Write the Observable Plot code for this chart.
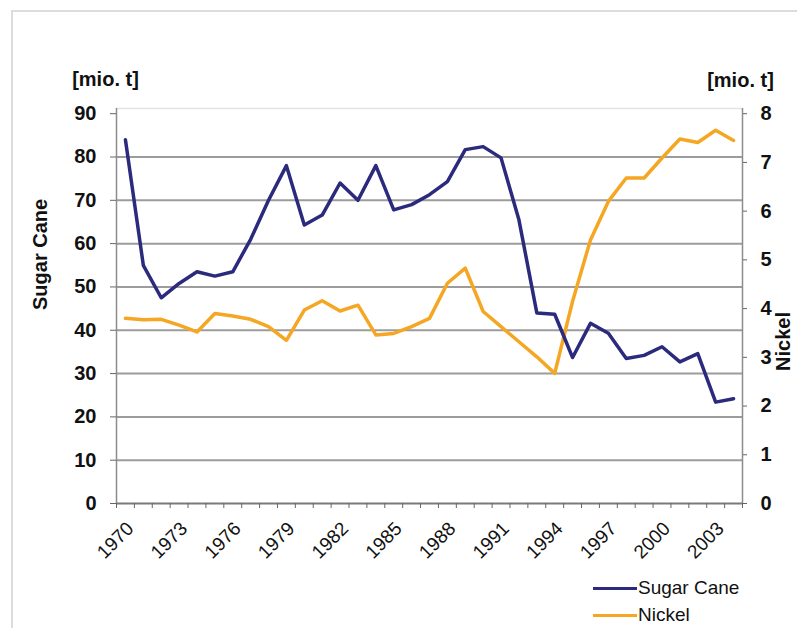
<!DOCTYPE html>
<html><head><meta charset="utf-8">
<script src="https://cdn.jsdelivr.net/npm/d3@7"></script>
<script src="https://cdn.jsdelivr.net/npm/@observablehq/plot@0.6"></script>
<style>
body{margin:0;background:#fff;}
#wrap{position:relative;width:797px;height:628px;overflow:hidden;font-family:"Liberation Sans",Arial,sans-serif;background:#fff;}
#border{position:absolute;left:11px;top:10px;width:820px;height:700px;border-left:2px solid #dcdcdc;border-top:2px solid #dcdcdc;}
#chart{position:absolute;left:0;top:0;}
.leg{position:absolute;left:593px;font-size:19px;color:#111;display:flex;align-items:center;height:24px;}
.leg .sw{display:inline-block;width:44px;height:3px;margin-right:1px;}
</style></head><body>
<div id="wrap"><div id="border"></div><div id="chart"></div>
<div class="leg" style="top:576px"><span class="sw" style="background:#2B2A7C"></span><span>Sugar Cane</span></div>
<div class="leg" style="top:603px"><span class="sw" style="background:#F5A623"></span><span>Nickel</span></div>
</div>
<script>
const years = [1970,1971,1972,1973,1974,1975,1976,1977,1978,1979,1980,1981,1982,1983,1984,1985,1986,1987,1988,1989,1990,1991,1992,1993,1994,1995,1996,1997,1998,1999,2000,2001,2002,2003,2004];
const sugarCane = [84,55,47.5,50.8,53.5,52.5,53.5,61,70,78,64.3,66.6,74,70,78,67.8,69,71.3,74.3,81.7,82.4,79.8,65.5,44,43.7,33.7,41.6,39.3,33.5,34.2,36.2,32.7,34.6,23.4,24.2];
const nickel = [3.80,3.77,3.78,3.66,3.52,3.90,3.85,3.78,3.63,3.35,3.97,4.16,3.95,4.07,3.46,3.49,3.63,3.80,4.52,4.83,3.94,3.63,3.32,3.01,2.67,4.15,5.41,6.2,6.68,6.68,7.09,7.48,7.41,7.66,7.45];
const yearLabels = [1970,1973,1976,1979,1982,1985,1988,1991,1994,1997,2000,2003];
const leftTicks = [0,10,20,30,40,50,60,70,80,90];
const rightTicks = [0,1,2,3,4,5,6,7,8];
const leftMax = 90, rightMax = 8;

const toLeft = v => v * leftMax / rightMax;
const dataS = years.map((y,i)=>({year:y, v:sugarCane[i]}));
const dataN = years.map((y,i)=>({year:y, v:toLeft(nickel[i])}));
const x0 = years[0]-0.5, x1 = years[years.length-1]+0.5;
const bounds = d3.range(years.length+1).map(i=>x0+i);
const yTop = 91.2;
const font = "Liberation Sans, Arial, sans-serif";

const plot = Plot.plot({
  width:797, height:628,
  marginLeft:116, marginRight:55, marginTop:108, marginBottom:125,
  style:{fontFamily:font, background:"transparent", overflow:"visible", color:"#111"},
  x:{domain:[x0,x1]},
  y:{domain:[0,yTop]},
  marks:[
    Plot.ruleY(leftTicks.filter(d=>d>0 && d<leftMax), {stroke:"#9c9c9c", strokeWidth:2}),
    Plot.ruleY([yTop], {stroke:"#e4e4e4", strokeWidth:1.5}),
    Plot.ruleX([x0], {stroke:"#8c8c8c", strokeWidth:1.5}),
    Plot.ruleX([x1], {stroke:"#8c8c8c", strokeWidth:1.5}),
    Plot.ruleY([0], {stroke:"#7a7a7a", strokeWidth:2}),
    Plot.axisY(leftTicks, {anchor:"left", tickSize:6, tickPadding:14, fontSize:20, fontWeight:"bold", label:null, stroke:"#666"}),
    Plot.axisY(rightTicks.map(toLeft), {anchor:"right", tickSize:4, tickPadding:14, fontSize:20, fontWeight:"bold", label:null, tickFormat:d=>String(Math.round(d*rightMax/leftMax)), stroke:"#666"}),
    Plot.axisX(bounds, {tickSize:5, tickFormat:()=>"", label:null, stroke:"#666"}),
    Plot.axisX(yearLabels, {tickSize:0, tickRotate:-45, tickPadding:22, fontSize:19, label:null, tickFormat:d=>String(d), dx:5}),
    Plot.line(dataN, {x:"year", y:"v", stroke:"#F5A623", strokeWidth:3.5, strokeLinejoin:"round"}),
    Plot.line(dataS, {x:"year", y:"v", stroke:"#2B2A7C", strokeWidth:3.5, strokeLinejoin:"round"}),
    Plot.text(["[mio. t]"], {frameAnchor:"top-left", dx:-11, dy:-37, fontSize:20, fontWeight:"bold", textAnchor:"middle"}),
    Plot.text(["[mio. t]"], {frameAnchor:"top-right", dx:-2, dy:-36, fontSize:20, fontWeight:"bold", textAnchor:"middle"}),
    Plot.text(["Sugar Cane"], {frameAnchor:"left", dx:-76, dy:4, rotate:-90, fontSize:20, fontWeight:"bold"}),
    Plot.text(["Nickel"], {frameAnchor:"right", dx:41, dy:6, rotate:-90, fontSize:20, fontWeight:"bold"})
  ]
});
document.getElementById("chart").appendChild(plot);
</script>
</body></html>
